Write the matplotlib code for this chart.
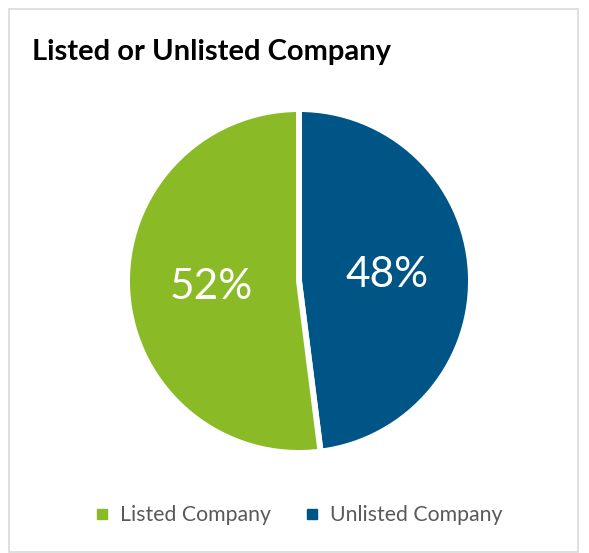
import matplotlib
matplotlib.use("Agg")
import matplotlib.pyplot as plt
from matplotlib.lines import Line2D
from matplotlib.patches import Rectangle

plt.rcParams['font.family'] = ['Lato', 'DejaVu Sans']

title = "Listed or Unlisted Company"
categories = ["Listed Company", "Unlisted Company"]
values = [52, 48]
colors = ["#8ABB27", "#005587"]

W, H = 589, 553
fig = plt.figure(figsize=(W / 100, H / 100), dpi=100)

# chart border
fig.patches.append(Rectangle((9 / W, 1 - 552 / H), (578 - 9) / W, (552 - 9) / H,
                             transform=fig.transFigure, fill=False,
                             edgecolor="#D9D9D9", linewidth=1.2))

fig.text(32 / W, 1 - 60 / H, title, fontsize=21, fontweight="bold",
         color="#000000", ha="left", va="baseline")

cx, cy, R = 299, 281, 172
ax = fig.add_axes([(cx - R) / W, 1 - (cy + R) / H, 2 * R / W, 2 * R / H])
# draw Unlisted first, clockwise from 12 o'clock
order = [1, 0]
wedges, texts, autotexts = ax.pie(
    [values[i] for i in order],
    colors=[colors[i] for i in order],
    startangle=90, counterclock=False,
    autopct="%.0f%%", pctdistance=0.51,
    wedgeprops=dict(edgecolor="white", linewidth=4.3),
    textprops=dict(color="white", fontsize=30.5, fontweight="normal"),
)
ax.set_xlim(-1, 1)
ax.set_ylim(-1, 1)
ax.set_aspect("equal")
ax.axis("off")

handles = [Line2D([], [], marker="s", linestyle="none", markersize=6.5,
                  markerfacecolor=c, markeredgecolor=c) for c in colors]
fig.legend(handles, categories, loc="center", bbox_to_anchor=(299 / W, 1 - 515 / H),
           ncol=2, frameon=False, fontsize=15.3, labelcolor="#595959",
           handlelength=0.6, handletextpad=0.55, columnspacing=1.6)

fig.savefig("out.png", dpi=100)
